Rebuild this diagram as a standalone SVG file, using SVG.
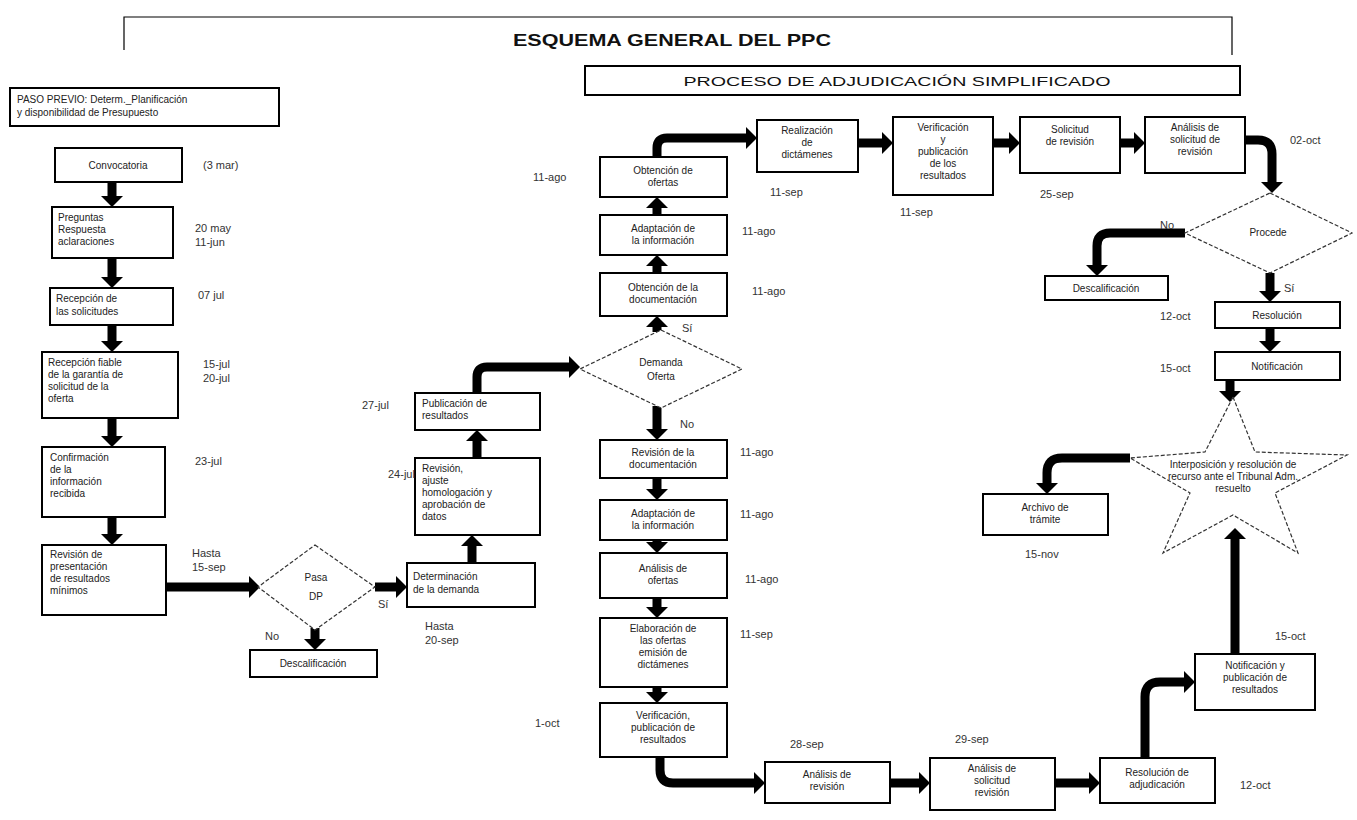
<svg xmlns="http://www.w3.org/2000/svg" width="1357" height="820" viewBox="0 0 1357 820">
<style>
.bx{fill:#fff;stroke:#000;stroke-width:2}
.dm{fill:#fff;stroke:#333;stroke-width:1.2;stroke-dasharray:4 2}
.t{font-family:"Liberation Sans",Arial,sans-serif;font-size:10px;fill:#222;text-anchor:middle}
.tl{font-family:"Liberation Sans",Arial,sans-serif;font-size:10px;fill:#222}
.d{font-family:"Liberation Sans",Arial,sans-serif;font-size:11px;fill:#333}
.c{fill:none;stroke:#000;stroke-width:9}
.thin{fill:none;stroke:#000;stroke-width:1.2}
</style>
<defs>
<marker id="ah" markerUnits="userSpaceOnUse" markerWidth="12" markerHeight="22" refX="0" refY="11" orient="auto" viewBox="0 0 12 22"><path d="M0,0 L11,11 L0,22 z" fill="#000"/></marker>
</defs>
<rect width="1357" height="820" fill="#fff"/>

<g id="title">
<path class="thin" d="M124,50 V17 H1232 V55"/>
<text x="672" y="46" font-family="Liberation Sans,Arial,sans-serif" font-size="17" font-weight="bold" textLength="318" lengthAdjust="spacingAndGlyphs" text-anchor="middle" fill="#111">ESQUEMA GENERAL DEL PPC</text>
</g>
<g id="subtitle">
<rect x="585" y="66" width="655" height="29" class="bx"/>
<text x="897" y="86" font-family="Liberation Sans,Arial,sans-serif" font-size="13" textLength="427" lengthAdjust="spacingAndGlyphs" text-anchor="middle" fill="#111">PROCESO DE ADJUDICACIÓN SIMPLIFICADO</text>
</g>

<g id="connectors">
<path class="c" marker-end="url(#ah)" d="M112,182 V196"/>
<path class="c" marker-end="url(#ah)" d="M112,258 V277"/>
<path class="c" marker-end="url(#ah)" d="M112,325 V341"/>
<path class="c" marker-end="url(#ah)" d="M112,418 V436"/>
<path class="c" marker-end="url(#ah)" d="M112,517 V534"/>
<path class="c" marker-end="url(#ah)" d="M166,587 H249"/>
<path class="thin" d="M258,587 H375"/>
<path class="c" marker-end="url(#ah)" d="M315,628 V639"/>
<path class="c" marker-end="url(#ah)" d="M375,587 H396"/>
<path class="c" marker-end="url(#ah)" d="M472,563 V546"/>
<path class="c" marker-end="url(#ah)" d="M477,458 V441"/>
<path class="c" marker-end="url(#ah)" d="M477,393 V377 Q477,367 487,367 H569"/>
<path class="c" marker-end="url(#ah)" d="M657,332 V327"/>
<path class="c" marker-end="url(#ah)" d="M657,273 V266"/>
<path class="c" marker-end="url(#ah)" d="M657,215 V208"/>
<path class="c" marker-end="url(#ah)" d="M657,157 V148 Q657,138 667,138 H746"/>
<path class="c" marker-end="url(#ah)" d="M858,143 H882"/>
<path class="c" marker-end="url(#ah)" d="M993,143 H1009"/>
<path class="c" marker-end="url(#ah)" d="M1120,143 H1134"/>
<path class="c" marker-end="url(#ah)" d="M1245,140 H1258 Q1272,140 1272,154 V182"/>
<path class="c" marker-end="url(#ah)" d="M1185,233 H1110 Q1097,233 1097,246 V265"/>
<path class="c" marker-end="url(#ah)" d="M1270,273 V291"/>
<path class="c" marker-end="url(#ah)" d="M1270,328 V341"/>
<path class="c" marker-end="url(#ah)" d="M1230,380 V391"/>
<path class="c" marker-end="url(#ah)" d="M1130,458 H1062 Q1047,458 1047,473 V483"/>
<path class="c" marker-end="url(#ah)" d="M1235,654 V539"/>
<path class="c" marker-end="url(#ah)" d="M657,406 V429"/>
<path class="c" marker-end="url(#ah)" d="M657,478 V489"/>
<path class="c" marker-end="url(#ah)" d="M657,540 V542"/>
<path class="c" marker-end="url(#ah)" d="M657,598 V607"/>
<path class="c" marker-end="url(#ah)" d="M657,687 V692"/>
<path class="c" marker-end="url(#ah)" d="M660,757 V770 Q660,783 673,783 H754"/>
<path class="c" marker-end="url(#ah)" d="M890,783 H919"/>
<path class="c" marker-end="url(#ah)" d="M1055,783 H1089"/>
<path class="c" marker-end="url(#ah)" d="M1145,758 V697 Q1145,682 1160,682 H1184"/>
</g>

<g id="paso-previo"><rect x="10" y="88" width="269" height="38" class="bx"/><text class="tl" x="17" y="103">PASO PREVIO: Determ._Planificación<tspan x="17" dy="13">y disponibilidad de Presupuesto</tspan></text></g>

<g id="convocatoria"><rect x="55" y="148" width="127" height="34" class="bx"/><text class="t" x="118" y="169">Convocatoria</text><text class="d" x="203" y="169">(3 mar)</text></g>
<g id="preguntas"><rect x="52" y="207" width="121" height="51" class="bx"/><text class="tl" x="58" y="221">Preguntas<tspan x="58" dy="12">Respuesta</tspan><tspan x="58" dy="12">aclaraciones</tspan></text><text class="d" x="195" y="232">20 may</text><text class="d" x="195" y="246">11-jun</text></g>
<g id="recepcion"><rect x="50" y="288" width="123" height="37" class="bx"/><text class="tl" x="56" y="302">Recepción      de<tspan x="56" dy="13">las solicitudes</tspan></text><text class="d" x="198" y="299">07 jul</text></g>
<g id="recepcion-fiable"><rect x="42" y="352" width="136" height="66" class="bx"/><text class="tl" x="48" y="366">Recepción fiable<tspan x="48" dy="12">de la garantía de</tspan><tspan x="48" dy="12">solicitud    de    la</tspan><tspan x="48" dy="12">oferta</tspan></text><text class="d" x="203" y="368">15-jul</text><text class="d" x="203" y="382">20-jul</text></g>
<g id="confirmacion"><rect x="42" y="447" width="123" height="70" class="bx"/><text class="tl" x="50" y="461">Confirmación<tspan x="50" dy="12">de                     la</tspan><tspan x="50" dy="12">información</tspan><tspan x="50" dy="12">recibida</tspan></text><text class="d" x="195" y="465">23-jul</text></g>
<g id="revision-minimos"><rect x="42" y="545" width="124" height="70" class="bx"/><text class="tl" x="50" y="558">Revisión       de<tspan x="50" dy="12">presentación</tspan><tspan x="50" dy="12">de      resultados</tspan><tspan x="50" dy="12">mínimos</tspan></text><text class="d" x="192" y="557">Hasta</text><text class="d" x="192" y="571">15-sep</text></g>
<g id="pasa-dp"><polygon points="315,545 375,587 315,630 258,587" class="dm"/><text class="t" x="316" y="581">Pasa</text><text class="t" x="316" y="600">DP</text><text class="d" x="265" y="640">No</text><text class="d" x="378" y="608">Sí</text></g>
<g id="descalificacion-1"><rect x="250" y="650" width="127" height="27" class="bx"/><text class="t" x="313" y="667">Descalificación</text></g>
<g id="determinacion"><rect x="407" y="563" width="128" height="44" class="bx"/><text class="tl" x="413" y="580">Determinación<tspan x="413" dy="13">de la demanda</tspan></text><text class="d" x="425" y="630">Hasta</text><text class="d" x="425" y="644">20-sep</text></g>
<g id="revision-ajuste"><rect x="415" y="458" width="125" height="77" class="bx"/><text class="tl" x="422" y="472">Revisión,<tspan x="422" dy="12">ajuste</tspan><tspan x="422" dy="12">homologación     y</tspan><tspan x="422" dy="12">aprobación    de</tspan><tspan x="422" dy="12">datos</tspan></text><text class="d" x="388" y="478">24-jul</text></g>
<g id="publicacion"><rect x="415" y="393" width="125" height="37" class="bx"/><text class="tl" x="422" y="407">Publicación     de<tspan x="422" dy="12">resultados</tspan></text><text class="d" x="362" y="409">27-jul</text></g>
<g id="demanda-oferta"><polygon points="661,330 742,369 661,408 580,369" class="dm"/><text class="t" x="661" y="366">Demanda</text><text class="t" x="661" y="380">Oferta</text><text class="d" x="682" y="332">Sí</text><text class="d" x="680" y="428">No</text></g>

<g id="obtencion-doc"><rect x="600" y="273" width="127" height="43" class="bx"/><text class="t" x="663" y="291">Obtención de la<tspan x="663" dy="12">documentación</tspan></text><text class="d" x="752" y="295">11-ago</text></g>
<g id="adaptacion-1"><rect x="600" y="215" width="127" height="40" class="bx"/><text class="t" x="663" y="232">Adaptación de<tspan x="663" dy="12">la información</tspan></text><text class="d" x="742" y="235">11-ago</text></g>
<g id="obtencion-ofertas"><rect x="600" y="157" width="127" height="40" class="bx"/><text class="t" x="663" y="174">Obtención de<tspan x="663" dy="12">ofertas</tspan></text><text class="d" x="533" y="181">11-ago</text></g>
<g id="realizacion"><rect x="757" y="120" width="101" height="52" class="bx"/><text class="t" x="807" y="134">Realización<tspan x="807" dy="12">de</tspan><tspan x="807" dy="12">dictámenes</tspan></text><text class="d" x="770" y="196">11-sep</text></g>
<g id="verificacion-1"><rect x="893" y="117" width="100" height="78" class="bx"/><text class="t" x="943" y="131">Verificación<tspan x="943" dy="12">y</tspan><tspan x="943" dy="12">publicación</tspan><tspan x="943" dy="12">de los</tspan><tspan x="943" dy="12">resultados</tspan></text><text class="d" x="900" y="216">11-sep</text></g>
<g id="solicitud-revision"><rect x="1020" y="117" width="100" height="56" class="bx"/><text class="t" x="1070" y="133">Solicitud<tspan x="1070" dy="12">de revisión</tspan></text><text class="d" x="1040" y="198">25-sep</text></g>
<g id="analisis-revision-1"><rect x="1145" y="117" width="100" height="56" class="bx"/><text class="t" x="1195" y="131">Análisis de<tspan x="1195" dy="12">solicitud de</tspan><tspan x="1195" dy="12">revisión</tspan></text><text class="d" x="1290" y="144">02-oct</text></g>
<g id="procede"><polygon points="1270,193 1352,233 1270,273 1185,233" class="dm"/><text class="t" x="1268" y="236">Procede</text><text class="d" x="1160" y="229">No</text><text class="d" x="1284" y="292">Sí</text></g>
<g id="descalificacion-2"><rect x="1045" y="276" width="123" height="24" class="bx"/><text class="t" x="1106" y="292">Descalificación</text></g>
<g id="resolucion"><rect x="1215" y="302" width="125" height="26" class="bx"/><text class="t" x="1277" y="319">Resolución</text><text class="d" x="1160" y="320">12-oct</text></g>
<g id="notificacion"><rect x="1215" y="352" width="125" height="28" class="bx"/><text class="t" x="1277" y="370">Notificación</text><text class="d" x="1160" y="372">15-oct</text></g>
<g id="recurso"><polygon points="1233,397 1255,452 1347,455 1275,493 1298,553 1233,515 1163,553 1190,493 1130,458 1205,452" class="dm"/><text class="t" x="1233" y="468" font-size="8.5px">Interposición y resolución de</text><text class="t" x="1233" y="480" font-size="8.5px">recurso ante el Tribunal Adm.</text><text class="t" x="1233" y="492" font-size="8.5px">resuelto</text></g>
<g id="archivo"><rect x="983" y="494" width="125" height="41" class="bx"/><text class="t" x="1045" y="511">Archivo de<tspan x="1045" dy="12">trámite</tspan></text><text class="d" x="1025" y="558">15-nov</text></g>

<g id="revision-doc"><rect x="600" y="440" width="127" height="38" class="bx"/><text class="t" x="663" y="456">Revisión de la<tspan x="663" dy="12">documentación</tspan></text><text class="d" x="740" y="456">11-ago</text></g>
<g id="adaptacion-2"><rect x="600" y="500" width="127" height="40" class="bx"/><text class="t" x="663" y="517">Adaptación de<tspan x="663" dy="12">la información</tspan></text><text class="d" x="740" y="518">11-ago</text></g>
<g id="analisis-ofertas"><rect x="600" y="553" width="127" height="45" class="bx"/><text class="t" x="663" y="572">Análisis de<tspan x="663" dy="12">ofertas</tspan></text><text class="d" x="745" y="583">11-ago</text></g>
<g id="elaboracion"><rect x="600" y="618" width="127" height="69" class="bx"/><text class="t" x="663" y="632">Elaboración de<tspan x="663" dy="12">las ofertas</tspan><tspan x="663" dy="12">emisión de</tspan><tspan x="663" dy="12">dictámenes</tspan></text><text class="d" x="740" y="638">11-sep</text></g>
<g id="verificacion-2"><rect x="600" y="703" width="127" height="54" class="bx"/><text class="t" x="663" y="719">Verificación,<tspan x="663" dy="12">publicación de</tspan><tspan x="663" dy="12">resultados</tspan></text><text class="d" x="535" y="727">1-oct</text></g>
<g id="analisis-revision-2"><rect x="765" y="762" width="125" height="41" class="bx"/><text class="t" x="827" y="778">Análisis de<tspan x="827" dy="12">revisión</tspan></text><text class="d" x="790" y="748">28-sep</text></g>
<g id="analisis-solicitud"><rect x="930" y="758" width="125" height="52" class="bx"/><text class="t" x="992" y="772">Análisis de<tspan x="992" dy="12">solicitud</tspan><tspan x="992" dy="12">revisión</tspan></text><text class="d" x="955" y="743">29-sep</text></g>
<g id="resolucion-adj"><rect x="1100" y="758" width="115" height="45" class="bx"/><text class="t" x="1157" y="776">Resolución de<tspan x="1157" dy="12">adjudicación</tspan></text><text class="d" x="1240" y="789">12-oct</text></g>
<g id="notif-pub"><rect x="1195" y="654" width="120" height="56" class="bx"/><text class="t" x="1255" y="669">Notificación y<tspan x="1255" dy="12">publicación de</tspan><tspan x="1255" dy="12">resultados</tspan></text><text class="d" x="1275" y="640">15-oct</text></g>
</svg>
